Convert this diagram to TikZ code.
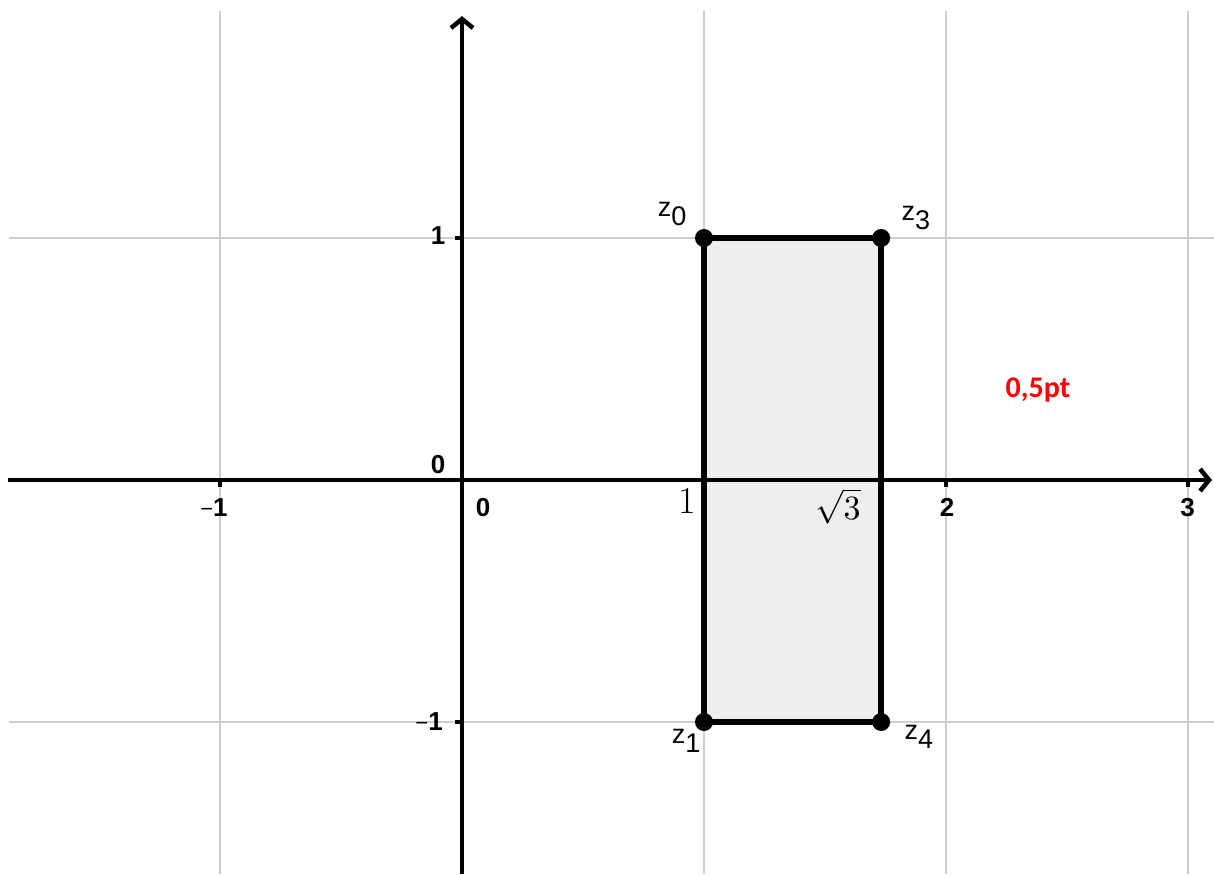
\documentclass[tikz,border=0pt]{standalone}
\usepackage{fontspec}
\usetikzlibrary{arrows.meta}
\newfontfamily\geosans{Liberation Sans}
\newfontfamily\redfont{Carlito}
\definecolor{gridgray}{RGB}{205,205,205}
\definecolor{rectfill}{RGB}{238,238,238}
\begin{document}
\begin{tikzpicture}[x=242pt,y=242pt,
  gridline/.style={gridgray,line width=2pt},
  axisline/.style={black,line width=4.5pt,-{Straight Barb[length=9pt,width=22pt]}},
  tickmark/.style={black,line width=4pt},
  ticklab/.style={font=\geosans\bfseries\fontsize{26}{30}\selectfont,inner sep=0pt},
  zlab/.style={font=\geosans\fontsize{27}{31}\selectfont,inner sep=0pt},
  dotpt/.style={circle,fill=black,inner sep=0pt,minimum size=18pt},
  serifl/.style={font=\fontsize{38}{42}\selectfont,inner sep=0pt}]
\useasboundingbox (-1.9091,-1.6281) rectangle (3.1074,1.9835);
% grid
\foreach \gx in {-1,1,2,3} \draw[gridline] (\gx,1.94) -- (\gx,-1.6281);
\foreach \gy in {1,-1} \draw[gridline] (-1.87,\gy) -- (3.1074,\gy);
% rectangle
\coordinate (z0) at (1,1);
\coordinate (z3) at (1.7321,1);
\coordinate (z4) at (1.7321,-1);
\coordinate (z1) at (1,-1);
\fill[rectfill] (z0) -- (z3) -- (z4) -- (z1) -- cycle;
% axes
\coordinate (xs) at (-1.876,0);
\coordinate (xe) at (3.099,0);
\coordinate (ys) at (0,-1.6281);
\coordinate (ye) at (0,1.917);
\draw[axisline] (xs) -- (xe);
\draw[axisline] (ys) -- (ye);
% ticks
\foreach \tx in {-1,1,2,3} \draw[tickmark] (\tx,0) -- (\tx,-0.03);
\foreach \ty in {1,-1} \draw[tickmark] (0,\ty) -- (-0.03,\ty);
% rectangle border
\draw[black,line width=5.5pt,line join=round] (z0) -- (z3) -- (z4) -- (z1) -- cycle;
\node[dotpt] (d0) at (z0) {};
\node[dotpt] (d3) at (z3) {};
\node[dotpt] (d4) at (z4) {};
\node[dotpt] (d1) at (z1) {};
% tick labels
\node[ticklab] (lxm1) at (-1.025,-0.112) {{\mdseries\fontsize{22}{26}\selectfont −}1};
\node[ticklab] (lx0) at (0.0868,-0.112) {0};
\node[ticklab] (lx2) at (2.004,-0.112) {2};
\node[ticklab] (lx3) at (2.998,-0.112) {3};
\node[ticklab] (ly1) at (-0.099,1.012) {1};
\node[ticklab] (lym1) at (-0.136,-1.0) {{\mdseries\fontsize{22}{26}\selectfont −}1};
\node[ticklab] (ly0) at (-0.099,0.062) {0};
% serif labels
\node[serifl] (one) at (0.930,-0.087) {1};
\node[inner sep=0pt,font=\fontsize{10}{12}\selectfont] (sq3) at (1.554,-0.108) {\scalebox{3.4}{$\sqrt{3}$}};
% z labels
\node[zlab] (lz0) at (0.868,1.099) {z\raisebox{-9pt}{0}};
\node[zlab] (lz3) at (1.876,1.083) {z\raisebox{-9pt}{3}};
\node[zlab] (lz1) at (0.926,-1.079) {z\raisebox{-9pt}{1}};
\node[zlab] (lz4) at (1.888,-1.062) {z\raisebox{-9pt}{4}};
% red note
\node[font=\redfont\bfseries\fontsize{30}{34}\selectfont,text=red,inner sep=0pt] (note) at (2.380,0.372) {0,5pt};
\end{tikzpicture}
\end{document}
